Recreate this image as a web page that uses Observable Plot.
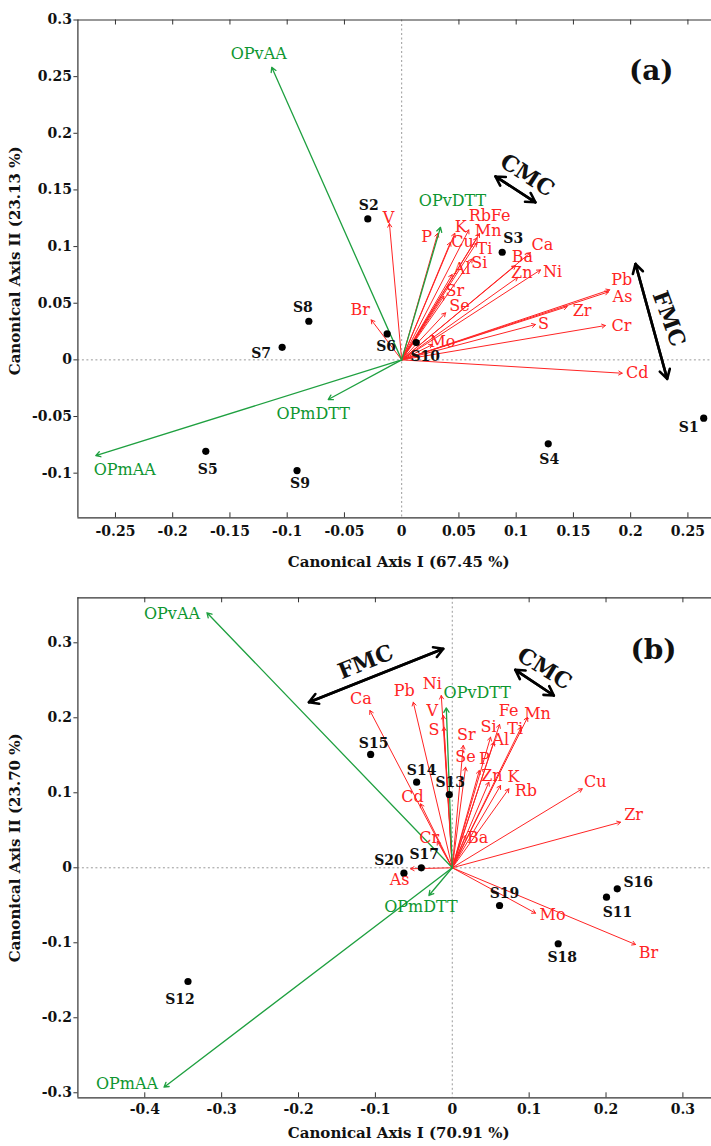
<!DOCTYPE html>
<html><head><meta charset="utf-8">
<script src="https://cdn.jsdelivr.net/npm/d3@7"></script>
<script src="https://cdn.jsdelivr.net/npm/@observablehq/plot@0.6"></script>
<style>
body{margin:0;background:#fff;}
#chart svg{display:block;font-family:'DejaVu Serif','Liberation Serif',serif;}
#chart svg text{font-family:'DejaVu Serif','Liberation Serif',serif;}
</style></head><body><div id="chart"></div>
<script>
// ---------- Panel (a) data ----------
const greenNamesA = ["OPvAA","OPvDTT","OPmDTT","OPmAA"];
const greenXA = [-0.1135, 0.0339, -0.0642, -0.2672];
const greenYA = [0.2582, 0.117, -0.035, -0.0845];

const redNamesA = ["V","P","K","Cu","Rb","Fe","Mn","Ti","Si","Al","Sr","Se","Mo","Br","Ba","Zn","Ca","Ni","Pb","As","Zr","S","Cr","Cd"];
const redXA = [-0.0107,0.0315,0.0464,0.0426,0.0586,0.068,0.0659,0.0653,0.0616,0.0441,0.0368,0.0383,0.0269,-0.0266,0.0994,0.1014,0.1125,0.1212,0.1817,0.1806,0.1445,0.1168,0.1779,0.1926];
const redYA = [0.1203,0.1117,0.1117,0.1038,0.1147,0.1115,0.1077,0.1032,0.0891,0.0753,0.0561,0.0415,0.0135,0.0353,0.0832,0.0729,0.0947,0.0794,0.0618,0.06,0.047,0.0312,0.0303,-0.0118];

const siteNamesA = ["S1","S2","S3","S4","S5","S6","S7","S8","S9","S10"];
const siteXA = [0.2638,-0.0296,0.0878,0.128,-0.1711,-0.0127,-0.1044,-0.0811,-0.0914,0.0127];
const siteYA = [-0.0515,0.1244,0.095,-0.0741,-0.0807,0.0229,0.0111,0.0341,-0.0977,0.0153];

const xTicksA = [-0.25,-0.2,-0.15,-0.1,-0.05,0,0.05,0.1,0.15,0.2,0.25];
const yTicksA = [-0.1,-0.05,0,0.05,0.1,0.15,0.2,0.25,0.3];

// ---------- Panel (b) data ----------
const greenNamesB = ["OPvAA","OPvDTT","OPmDTT","OPmAA"];
const greenXB = [-0.3191, -0.0078, -0.0304, -0.375];
const greenYB = [0.34, 0.2133, -0.0369, -0.2925];

const redNamesB = ["Ca","Pb","Ni","V","S","Sr","Se","P","Si","Fe","Ti","Mn","Al","Zn","K","Rb","Cd","Cr","Ba","As","Cu","Zr","Mo","Br"];
const redXB = [-0.1072,-0.0507,-0.0143,-0.0117,-0.0109,0.0143,0.0173,0.0351,0.0498,0.0615,0.0897,0.0979,0.0541,0.0476,0.0628,0.0736,-0.0412,-0.0195,0.0173,-0.0542,0.169,0.2189,0.1083,0.2384];
const redYB = [0.2097,0.2208,0.2297,0.2031,0.1875,0.1631,0.1341,0.1297,0.1741,0.1911,0.1875,0.2004,0.1675,0.1141,0.1097,0.1053,0.0853,0.0355,0.0431,-0.0013,0.1053,0.0608,-0.0605,-0.1023];

const siteNamesB = ["S11","S12","S13","S14","S15","S16","S17","S18","S19","S20"];
const siteXB = [0.2006,-0.3438,-0.0039,-0.0464,-0.1062,0.2146,-0.0403,0.1378,0.0615,-0.0629];
const siteYB = [-0.0392,-0.1516,0.0977,0.1141,0.1511,-0.028,0,-0.1013,-0.0503,-0.0072];

const xTicksB = [-0.4,-0.3,-0.2,-0.1,0,0.1,0.2,0.3];
const yTicksB = [-0.3,-0.2,-0.1,0,0.1,0.2,0.3];

// ---------- annotations (CMC / FMC double arrows) ----------
const annotA = [
  {text:"CMC", x1:0.0819, y1:0.1619, x2:0.1168, y2:0.1391, tx:0.1096, ty:0.1627, rot:33},
  {text:"FMC", x1:0.2042, y1:0.0847, x2:0.2319, y2:-0.0168, tx:0.2333, ty:0.0362, rot:70}
];
const annotB = [
  {text:"FMC", x1:-0.1865, y1:0.2208, x2:-0.0117, y2:0.292, tx:-0.1127, ty:0.2741, rot:-22},
  {text:"CMC", x1:0.0819, y1:0.264, x2:0.1321, y2:0.2297, tx:0.12, ty:0.2653, rot:32}
];

// ---------- label placement offsets (px) ----------
const offA = {
  OPvAA:[-13,-13], OPvDTT:[12,-26], OPmDTT:[-15,14], OPmAA:[29,14],
  V:[-1,-6], P:[-11,4], K:[6,-6], Cu:[12,0], Rb:[11,-14], Fe:[21,-18], Mn:[11,-7], Ti:[8,6],
  Si:[7,4], Al:[10,-6], Sr:[11,-5], Se:[14,-7], Mo:[10,-3], Br:[-11,-10], Ba:[7,-9], Zn:[4,-4],
  Ca:[12,-8], Ni:[12,2], Pb:[12,-10], As:[14,5], Zr:[15,4], S:[8,-1], Cr:[16,0], Cd:[15,0],
  S1:[-15,9], S2:[1,-13], S3:[11,-14], S4:[1,16], S5:[2,18], S6:[-1,13], S7:[-21,6], S8:[-6,-14], S9:[3,13], S10:[9,14]
};
const offB = {
  OPvAA:[-35,1], OPvDTT:[31,-15], OPmDTT:[-8,11], OPmAA:[-37,-3],
  Ca:[-9,-12], Pb:[-9,-11], Ni:[-9,-12], V:[-11,-5], S:[-10,3], Sr:[3,-11], Se:[0,-10], P:[5,-12],
  Si:[-2,-10], Fe:[9,-14], Ti:[-6,2], Mn:[10,-4], Al:[7,-2], Zn:[3,-6], K:[13,-9], Rb:[17,2],
  Cd:[-8,-7], Cr:[-8,-3], Ba:[12,2], As:[-11,11], Cu:[13,-7], Zr:[13,-7], Mo:[17,2], Br:[13,8],
  S11:[11,15], S12:[-8,18], S13:[1,-12], S14:[5,-12], S15:[3,-11], S16:[21,-6], S17:[3,-13], S18:[4,14], S19:[5,-12], S20:[-15,-13]
};

const RED = "#ff2424", GREEN_LINE = "#1fa040", GREEN_TEXT = "#0e9630";
const SERIF = "'DejaVu Serif', 'Liberation Serif', serif";
const fmt = d => Math.abs(d) < 1e-9 ? "0" : String(+d.toFixed(2));

function makePanel(p) {
  const W = 711, H = 573, ML = 77.4;
  const fh = H - p.mt - p.mb;
  const zip = (names, xs, ys) => names.map((n, i) => ({name: n, x: xs[i], y: ys[i], off: p.off[n] || [0,0]}));
  const green = zip(p.greenNames, p.greenX, p.greenY);
  const red = zip(p.redNames, p.redX, p.redY);
  const sites = zip(p.siteNames, p.siteX, p.siteY);
  const lab = (arr, opts) => arr.map(d => Plot.text([d], {x: "x", y: "y", text: "name", dx: d.off[0], dy: d.off[1], fontFamily: SERIF, ...opts}));
  return Plot.plot({
    width: W, height: H,
    marginTop: p.mt, marginBottom: p.mb, marginLeft: ML, marginRight: 0,
    style: {fontFamily: SERIF, fontSize: "14px", background: "white", overflow: "visible"},
    x: {domain: p.xd, range: [ML, W]},
    y: {domain: p.yd, range: [H - p.mb, p.mt]},
    marks: [
      Plot.ruleX([0], {stroke: "#9a9a9a", strokeDasharray: "2,2.5", strokeWidth: 1}),
      Plot.ruleY([0], {stroke: "#9a9a9a", strokeDasharray: "2,2.5", strokeWidth: 1}),
      Plot.ruleX([p.xd[0]], {stroke: "#333", strokeWidth: 1.2}),
      Plot.ruleY(p.yd, {stroke: "#333", strokeWidth: 1.2}),
      Plot.tickX(p.xTicks.filter(d => d !== 0), {x: d => d, insetTop: fh - 5, stroke: "#333"}),
      Plot.tickX(p.xTicks.filter(d => d !== 0), {x: d => d, insetBottom: fh - 5, stroke: "#333"}),
      Plot.axisY({ticks: p.yTicks, tickSize: 4, tickPadding: 2, tickFormat: fmt, label: null,
        fontFamily: SERIF, fontSize: 14, fontWeight: "bold", fill: "#111", stroke: "#333"}),
      Plot.axisX({ticks: p.xTicks, tickSize: 0, tickPadding: p.xPad, tickFormat: fmt, label: null,
        fontFamily: SERIF, fontSize: 14, fontWeight: "bold", fill: "#111"}),
      Plot.text([p.xTitle], {frameAnchor: "bottom", textAnchor: "middle", lineAnchor: "middle", dx: 4, dy: p.xTitleDy,
        fontFamily: SERIF, fontSize: 15, fontWeight: "bold", fill: "#111"}),
      Plot.text([p.yTitle], {frameAnchor: "left", textAnchor: "middle", lineAnchor: "middle", rotate: -90, dx: 15 - ML, dy: p.yTitleDy,
        fontFamily: SERIF, fontSize: 15, fontWeight: "bold", fill: "#111"}),
      Plot.arrow(red, {x1: () => 0, y1: () => 0, x2: "x", y2: "y", stroke: RED, strokeWidth: 1, headLength: 6}),
      Plot.arrow(green, {x1: () => 0, y1: () => 0, x2: "x", y2: "y", stroke: GREEN_LINE, strokeWidth: 1.3, headLength: 6}),
      Plot.dot(sites, {x: "x", y: "y", r: 3.6, fill: "black"}),
      ...lab(red, {fill: RED, fontSize: 16}),
      ...lab(green, {fill: GREEN_TEXT, fontSize: 16}),
      ...lab(sites, {fill: "#111", fontSize: 14, fontWeight: "bold"}),
      Plot.arrow(p.annot, {x1: "x1", y1: "y1", x2: "x2", y2: "y2", stroke: "black", strokeWidth: 2.6, headLength: 6}),
      Plot.arrow(p.annot, {x1: "x2", y1: "y2", x2: "x1", y2: "y1", stroke: "black", strokeWidth: 2.6, headLength: 6}),
      ...p.annot.map(a => Plot.text([a], {x: "tx", y: "ty", text: "text", rotate: a.rot, fontFamily: SERIF, fontSize: 22, fontWeight: "bold", fill: "#111"})),
      Plot.text([p.tag], {x: () => p.tagX, y: () => p.tagY, text: d => d, fontFamily: SERIF, fontSize: 28, fontWeight: "bold", fill: "#111"})
    ]
  });
}

const chart = document.getElementById("chart");
chart.append(makePanel({
  mt: 19.5, mb: 55.7, xd: [-0.2828, 0.2706], yd: [-0.1394, 0.3],
  xTicks: xTicksA, yTicks: yTicksA, xPad: 8,
  greenNames: greenNamesA, greenX: greenXA, greenY: greenYA,
  redNames: redNamesA, redX: redXA, redY: redYA,
  siteNames: siteNamesA, siteX: siteXA, siteY: siteYA,
  off: offA, annot: annotA,
  xTitle: "Canonical Axis I (67.45 %)", xTitleDy: 44.4,
  yTitle: "Canonical Axis II (23.13 %)", yTitleDy: -8,
  tag: "(a)", tagX: 0.218, tagY: 0.2553
}));
chart.append(makePanel({
  mt: 24.3, mb: 48.7, xd: [-0.487, 0.3372], yd: [-0.3067, 0.36],
  xTicks: xTicksB, yTicks: yTicksB, xPad: 6,
  greenNames: greenNamesB, greenX: greenXB, greenY: greenYB,
  redNames: redNamesB, redX: redXB, redY: redYB,
  siteNames: siteNamesB, siteX: siteXB, siteY: siteYB,
  off: offB, annot: annotB,
  xTitle: "Canonical Axis I (70.91 %)", xTitleDy: 35,
  yTitle: "Canonical Axis II (23.70 %)", yTitleDy: 0,
  tag: "(b)", tagX: 0.2618, tagY: 0.2897
}));
</script></body></html>
